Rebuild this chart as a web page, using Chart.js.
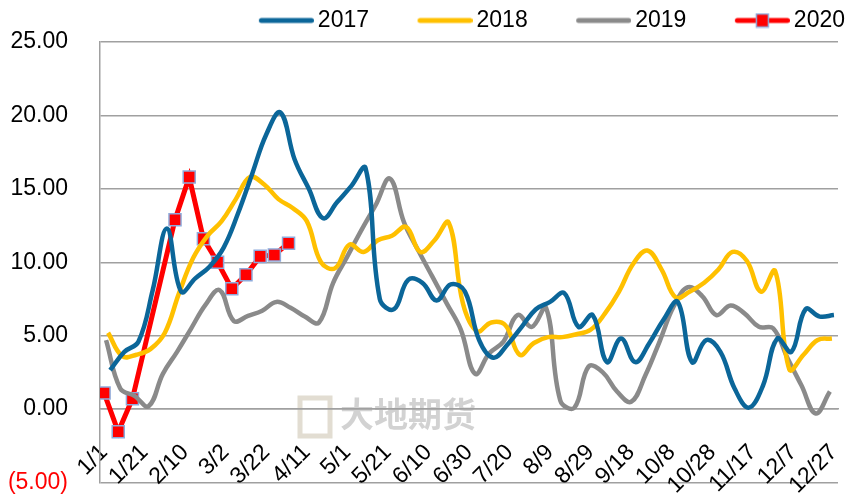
<!DOCTYPE html>
<html>
<head>
<meta charset="utf-8">
<script src="https://cdn.jsdelivr.net/npm/chart.js@4.4.1/dist/chart.umd.min.js"></script>
<style>
  html, body { margin: 0; padding: 0; background: #ffffff; }
  #wrap { width: 848px; height: 495px; position: relative; }
</style>
</head>
<body>
<div id="wrap"><canvas id="chart" width="848" height="495"></canvas></div>
<script>
// ---------- DATA ----------
const seriesNames = ['2017', '2018', '2019', '2020'];

// weekly observations (first observation date of each year, then every 7 days)
const firstWeek2017 = '2017-01-06';
const firstWeek2018 = '2018-01-05';
const firstWeek2019 = '2019-01-04';

const values2017 = [2.65, 3.9, 4.6, 8.1, 12.3, 8.0, 8.9, 9.7, 11.0, 13.3, 16.0, 18.7, 20.2, 17.0, 15.0, 13.0,
  14.1, 15.2, 16.4, 7.5, 6.8, 8.8, 8.6, 7.4, 8.5, 8.0, 4.7, 3.5, 4.4, 5.6, 6.8, 7.3, 7.9, 5.6, 6.4, 3.2,
  4.8, 3.2, 4.5, 6.1, 7.3, 3.2, 4.7, 3.9, 1.4, 0.1, 1.6, 4.8, 3.9, 6.8, 6.3, 6.4];

const values2018 = [5.2, 3.6, 3.7, 4.1, 5.2, 7.9, 10.3, 11.8, 12.8, 14.3, 15.8, 15.3, 14.3, 13.7, 12.8, 10.0,
  9.6, 11.2, 10.7, 11.5, 11.8, 12.4, 10.7, 11.5, 12.7, 7.2, 5.3, 5.9, 5.7, 3.7, 4.5, 4.9, 4.9, 5.1, 5.4, 6.5,
  8.0, 9.9, 10.8, 9.5, 7.6, 8.0, 8.6, 9.5, 10.7, 10.1, 8.0, 9.4, 2.7, 3.7, 4.7, 4.8];

const values2019 = [4.7, 1.4, 0.9, 0.2, 2.4, 3.9, 5.5, 7.1, 8.1, 6.0, 6.35, 6.7, 7.3, 6.9, 6.3, 5.9,
  8.6, 10.4, 12.2, 13.9, 15.7, 12.7, 10.8, 9.0, 7.2, 5.4, 2.4, 3.8, 4.6, 6.4, 5.6, 6.9, 0.6, 0.1, 2.9, 2.5,
  1.2, 0.5, 2.3, 4.6, 7.0, 8.3, 7.7, 6.4, 7.05, 6.5, 5.6, 5.5, 3.5, 1.6, -0.3, 1.2];

const dates2020 = ['1/3', '1/10', '1/17', '2/7', '2/14', '2/21', '2/28', '3/6', '3/13', '3/20', '3/27', '4/3'];
const values2020 = [1.1, -1.55, 0.7, 12.9, 15.8, 11.6, 10.0, 8.2, 9.15, 10.4, 10.5, 11.3];

// axis ticks
const xTickDays = [0, 20, 40, 60, 80, 100, 120, 140, 160, 180, 200, 220, 240, 260, 280, 300, 320, 340, 360];
const xTickLabels = ['1/1', '1/21', '2/10', '3/2', '3/22', '4/11', '5/1', '5/21', '6/10', '6/30', '7/20',
  '8/9', '8/29', '9/18', '10/8', '10/28', '11/17', '12/7', '12/27'];
const yTickValues = [-5, 0, 5, 10, 15, 20, 25];

const watermarkText = '大地期货';

// ---------- HELPERS ----------
function dayOfYear(year, month, day) {
  return Math.round((Date.UTC(year, month - 1, day) - Date.UTC(year, 0, 1)) / 86400000);
}
function weeklyPoints(startIso, values) {
  const [y, m, d] = startIso.split('-').map(Number);
  const start = dayOfYear(y, m, d);
  return values.map((v, i) => ({ x: start + 7 * i, y: v }));
}
function datedPoints(year, dates, values) {
  return dates.map((s, i) => {
    const [m, d] = s.split('/').map(Number);
    return { x: dayOfYear(year, m, d), y: values[i] };
  });
}

const colors = { '2017': '#0b6699', '2018': '#ffc000', '2019': '#8a8a8a', '2020': '#ff0000' };
const markerBorder = '#8eaadb';

function legendImage(color, withMarker) {
  const W = 108, H = 16;
  const c = document.createElement('canvas');
  c.width = W; c.height = H;
  const g = c.getContext('2d');
  g.strokeStyle = color; g.lineWidth = 5; g.lineCap = 'round';
  g.beginPath(); g.moveTo(W - 55 + 2.5, H / 2); g.lineTo(W - 2.5, H / 2); g.stroke();
  if (withMarker) {
    const cx = W - 27.5;
    g.fillStyle = color;
    g.fillRect(cx - 6, H / 2 - 6.5, 12, 13);
    g.strokeStyle = markerBorder; g.lineWidth = 1.5;
    g.strokeRect(cx - 6, H / 2 - 6.5, 12, 13);
  }
  return c;
}
const legendImages = [
  legendImage(colors['2017'], false),
  legendImage(colors['2018'], false),
  legendImage(colors['2019'], false),
  legendImage(colors['2020'], true)
];

const FONT = "'Liberation Sans', Arial, sans-serif";

// faint background logo watermark (drawn behind the chart)
const watermark = {
  id: 'watermark',
  beforeDraw(chart) {
    const { ctx } = chart;
    ctx.save();
    ctx.strokeStyle = '#e2ddd2'; ctx.lineWidth = 5;
    ctx.strokeRect(300, 398, 30, 38);
    ctx.fillStyle = '#d2d2d2';
    ctx.font = "bold 34px 'Noto Sans CJK SC', sans-serif";
    ctx.textBaseline = 'middle';
    ctx.fillText(watermarkText, 340, 414);
    ctx.restore();
  }
};

const smoothLine = (label, data) => ({
  label, data,
  borderColor: colors[label], backgroundColor: colors[label],
  borderWidth: 4.5, pointRadius: 0, pointHoverRadius: 0,
  tension: 0.4, fill: false
});

new Chart(document.getElementById('chart'), {
  type: 'line',
  data: {
    datasets: [
      smoothLine(seriesNames[0], weeklyPoints(firstWeek2017, values2017)),
      smoothLine(seriesNames[1], weeklyPoints(firstWeek2018, values2018)),
      smoothLine(seriesNames[2], weeklyPoints(firstWeek2019, values2019)),
      {
        label: seriesNames[3], data: datedPoints(2020, dates2020, values2020),
        borderColor: colors['2020'], backgroundColor: colors['2020'],
        borderWidth: 5, tension: 0, spanGaps: true,
        pointStyle: 'rect', pointRadius: 8.5, pointBorderColor: markerBorder,
        pointBorderWidth: 1.5, pointBackgroundColor: colors['2020']
      }
    ]
  },
  plugins: [watermark],
  options: {
    responsive: false,
    devicePixelRatio: 1,
    animation: false,
    layout: { padding: { top: 6, bottom: 12.5, left: 0, right: 0 } },
    plugins: {
      tooltip: { enabled: false },
      legend: {
        display: true, position: 'top', align: 'end',
        labels: {
          usePointStyle: true, pointStyleWidth: 93, padding: 3,
          color: '#000000', font: { family: FONT, size: 23 },
          generateLabels: (chart) => Chart.defaults.plugins.legend.labels.generateLabels(chart)
            .map((item, i) => Object.assign(item, { pointStyle: legendImages[i] }))
        }
      }
    },
    scales: {
      x: {
        type: 'linear', min: 0, max: 364,
        position: { y: 0 },
        grid: { display: false, drawTicks: false },
        border: { display: true, color: '#a0a0a0', width: 1.5 },
        afterBuildTicks: (s) => { s.ticks = xTickDays.map(v => ({ value: v })); },
        afterFit: (s) => { s.paddingLeft = 0; s.paddingRight = 8; s.height = 0; },
        ticks: {
          autoSkip: false, minRotation: 45, maxRotation: 45,
          padding: 30, labelOffset: 4,
          color: '#000000', font: { family: FONT, size: 23 },
          callback: (v) => xTickLabels[xTickDays.indexOf(v)]
        }
      },
      y: {
        min: -5, max: 25,
        afterBuildTicks: (s) => { s.ticks = yTickValues.map(v => ({ value: v })); },
        afterFit: (s) => { s.width = 100; s.paddingTop = 0; s.paddingBottom = 0; },
        grid: { color: '#a0a0a0', lineWidth: 1.5, drawTicks: false },
        border: { display: true, color: '#a0a0a0', width: 1.5 },
        ticks: {
          padding: 32,
          font: { family: FONT, size: 23 },
          color: (ctx) => (ctx.tick && ctx.tick.value < 0 ? '#ff0000' : '#000000'),
          callback: (v) => (v < 0 ? '(' + Math.abs(v).toFixed(2) + ')' : v.toFixed(2))
        }
      }
    }
  }
});
</script>
</body>
</html>
